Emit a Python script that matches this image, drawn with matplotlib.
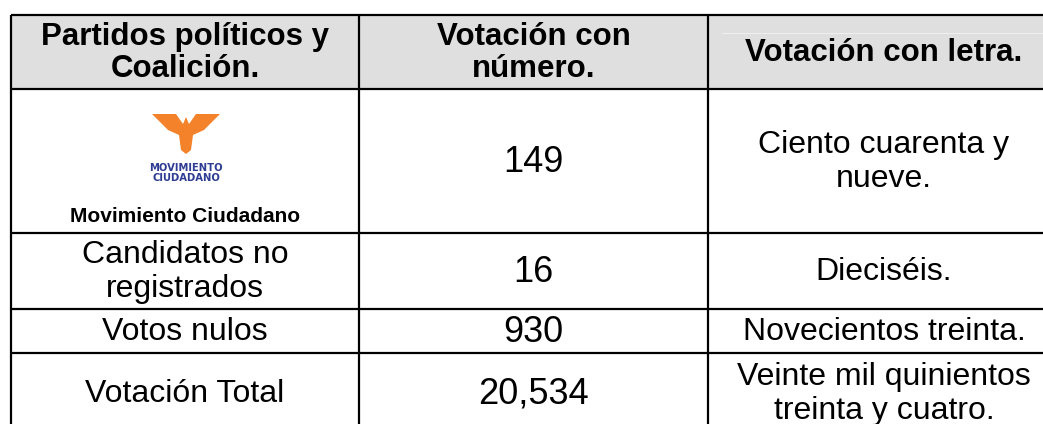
import matplotlib.pyplot as plt
from matplotlib.patches import Rectangle, Polygon

# table contents
headers = ['Partidos políticos y\nCoalición.', 'Votación con\nnúmero.', 'Votación con letra.']
parties = ['Movimiento Ciudadano', 'Candidatos no\nregistrados', 'Votos nulos', 'Votación Total']
votes = [149, 16, 930, 20534]
votes_text = ['Ciento cuarenta y\nnueve.', 'Dieciséis.', 'Novecientos treinta.',
              'Veinte mil quinientos\ntreinta y cuatro.']

# layout in pixels
col_x = [11, 359, 708, 1060]
row_y = [15, 89, 233, 309, 353, 433]

plt.rcParams['font.family'] = ['Liberation Sans', 'DejaVu Sans']
fig = plt.figure(figsize=(10.43, 4.24), dpi=100)
ax = fig.add_axes([0, 0, 1, 1])
ax.set_xlim(0, 1043)
ax.set_ylim(424, 0)
ax.axis('off')

# header background
ax.add_patch(Rectangle((col_x[0], row_y[0]), col_x[-1] - col_x[0], row_y[1] - row_y[0],
                       facecolor='#dfdfdf', edgecolor='none'))
ax.plot([722, col_x[-1]], [33, 33], color='#efefef', lw=0.8)

lw = 1.6
for y in row_y:
    ax.plot([col_x[0], col_x[-1]], [y, y], color='black', lw=lw, solid_capstyle='butt')
for x in col_x:
    ax.plot([x, x], [row_y[0], row_y[-1]], color='black', lw=lw, solid_capstyle='butt')

cx = [(col_x[i] + col_x[i + 1]) / 2 for i in range(3)]
for i, h in enumerate(headers):
    ax.text(cx[i], (row_y[0] + row_y[1]) / 2 + 1, h, ha='center', va='center',
            fontsize=22.5, fontweight='bold', linespacing=1.08)

for r in range(4):
    cy = (row_y[r + 1] + row_y[r + 2]) / 2
    ax.text(cx[1], cy + 1, f'{votes[r]:,}', ha='center', va='center', fontsize=26)
    ax.text(cx[2], cy + 1, votes_text[r], ha='center', va='center', fontsize=23,
            linespacing=1.15)
    if r == 0:
        # party logo
        eagle = [(152, 114), (176, 114), (183, 124), (186, 117), (189, 124), (196, 114),
                 (220, 114), (204, 130), (193, 135), (191, 150), (186, 154), (181, 150),
                 (179, 135), (168, 130)]
        ax.add_patch(Polygon(eagle, closed=True, facecolor='#f3822a', edgecolor='none'))
        ax.text(186, 173, 'MOVIMIENTO\nCIUDADANO', ha='center', va='center', fontsize=8,
                fontweight='bold', color='#2f3c94', linespacing=1.05, family='DejaVu Sans',
                fontstretch='condensed')
        ax.text(cx[0], 217, parties[r], ha='center', va='center', fontsize=15,
                fontweight='bold')
    else:
        ax.text(cx[0], cy + 1, parties[r], ha='center', va='center', fontsize=23,
                linespacing=1.15)

fig.savefig('out.png', dpi=100)
